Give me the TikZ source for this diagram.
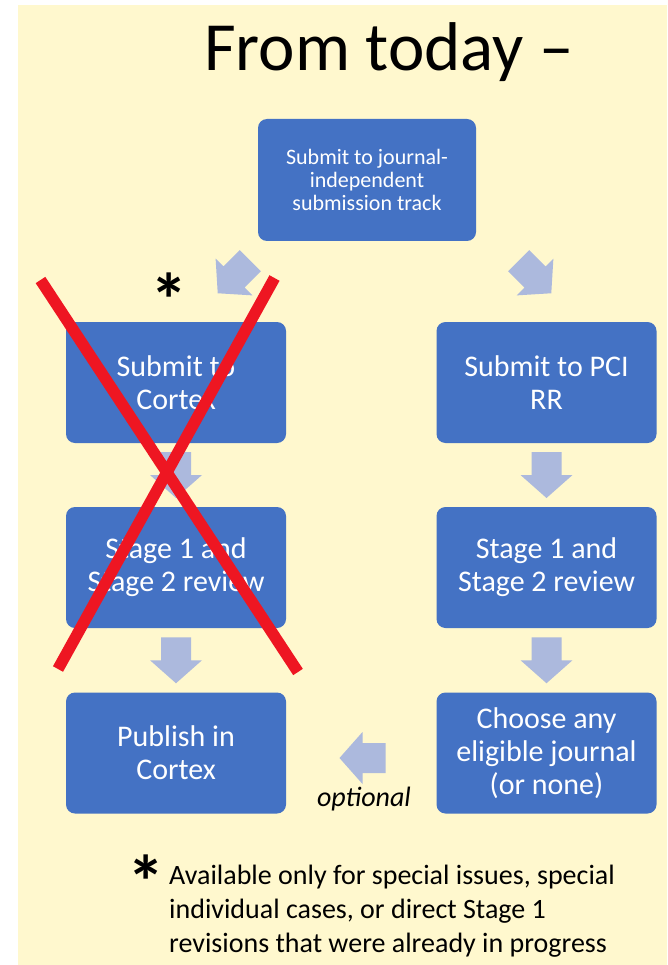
\documentclass[tikz,border=0pt]{standalone}
\usepackage{fontspec}
\setmainfont{Carlito}
\usetikzlibrary{calc}
\definecolor{bg}{RGB}{255,248,206}
\definecolor{boxblue}{RGB}{68,114,196}
\definecolor{arrowcol}{RGB}{172,185,221}
\definecolor{xred}{RGB}{238,22,34}
\tikzset{
  stepbox/.style={fill=boxblue, rounded corners=9pt, text=white, align=center,
    inner sep=0pt, minimum width=220pt, minimum height=121pt,
    font=\fontsize{30}{33}\selectfont},
  barrow/.pic={\fill[arrowcol] (-23,-15) -- (0,-15) -- (0,-26) -- (23,0) -- (0,26) -- (0,15) -- (-23,15) -- cycle;},
  xline/.style={draw=xred, line width=11.5pt},
  astmark/.style={inner sep=0pt, font=\fontsize{75}{75}\selectfont\bfseries},
}
\begin{document}
\begin{tikzpicture}[x=1pt,y=1pt]
\useasboundingbox (0,0) rectangle (667,-965);
\fill[bg] (18,-5) rectangle (667,-965);
\node[anchor=base, inner sep=0pt, font=\fontsize{69}{70}\selectfont] (title) at (389,-71) {From today –};
\node[stepbox, minimum width=218pt, minimum height=122pt, font=\fontsize{22}{23}\selectfont] (top) at (367,-180) {Submit to journal-\\independent\\submission track};
\node[stepbox] (l1) at (176,-382.5) {Submit to\\Cortex};
\node[stepbox] (l2) at (176,-567.5) {Stage 1 and\\Stage 2 review};
\node[stepbox] (l3) at (176,-753) {Publish in\\Cortex};
\node[stepbox] (r1) at (546.5,-382.5) {Submit to PCI\\RR};
\node[stepbox] (r2) at (546.5,-567.5) {Stage 1 and\\Stage 2 review};
\node[stepbox] (r3) at (546.5,-753) {Choose any\\eligible journal\\(or none)};
% block arrows
\coordinate (dl) at (234,-277);
\coordinate (dr) at (535,-277);
\pic[rotate=-135] at (dl) {barrow};
\pic[rotate=-45] at (dr) {barrow};
\pic[rotate=-90] at ($(l1.south)!0.5!(l2.north)$) {barrow};
\pic[rotate=-90] at ($(l2.south)!0.5!(l3.north)$) {barrow};
\pic[rotate=-90] at ($(r1.south)!0.5!(r2.north)$) {barrow};
\pic[rotate=-90] at ($(r2.south)!0.5!(r3.north)$) {barrow};
\coordinate (opt) at (362.5,-758);
\pic[rotate=180] at (opt) {barrow};
\node[anchor=base, inner sep=0pt, font=\fontsize{28}{30}\selectfont\itshape] (optlabel) at (364,-806) {optional};
% asterisk
\node[astmark] (ast) at (169,-300) {*};
% red cross
\coordinate (xa) at (40.5,-280);
\coordinate (xb) at (298,-672);
\coordinate (xc) at (274.5,-278);
\coordinate (xd) at (58,-669);
\draw[xline] (xa) -- (xb);
\draw[xline] (xc) -- (xd);
% footnote
\node[astmark] (fast) at (146,-882) {*};
\node[anchor=base west, inner sep=0pt, align=left, font=\fontsize{28}{34}\selectfont] (foot) at (169,-952) {Available only for special issues, special\\individual cases, or direct Stage 1\\revisions that were already in progress};
\end{tikzpicture}
\end{document}
